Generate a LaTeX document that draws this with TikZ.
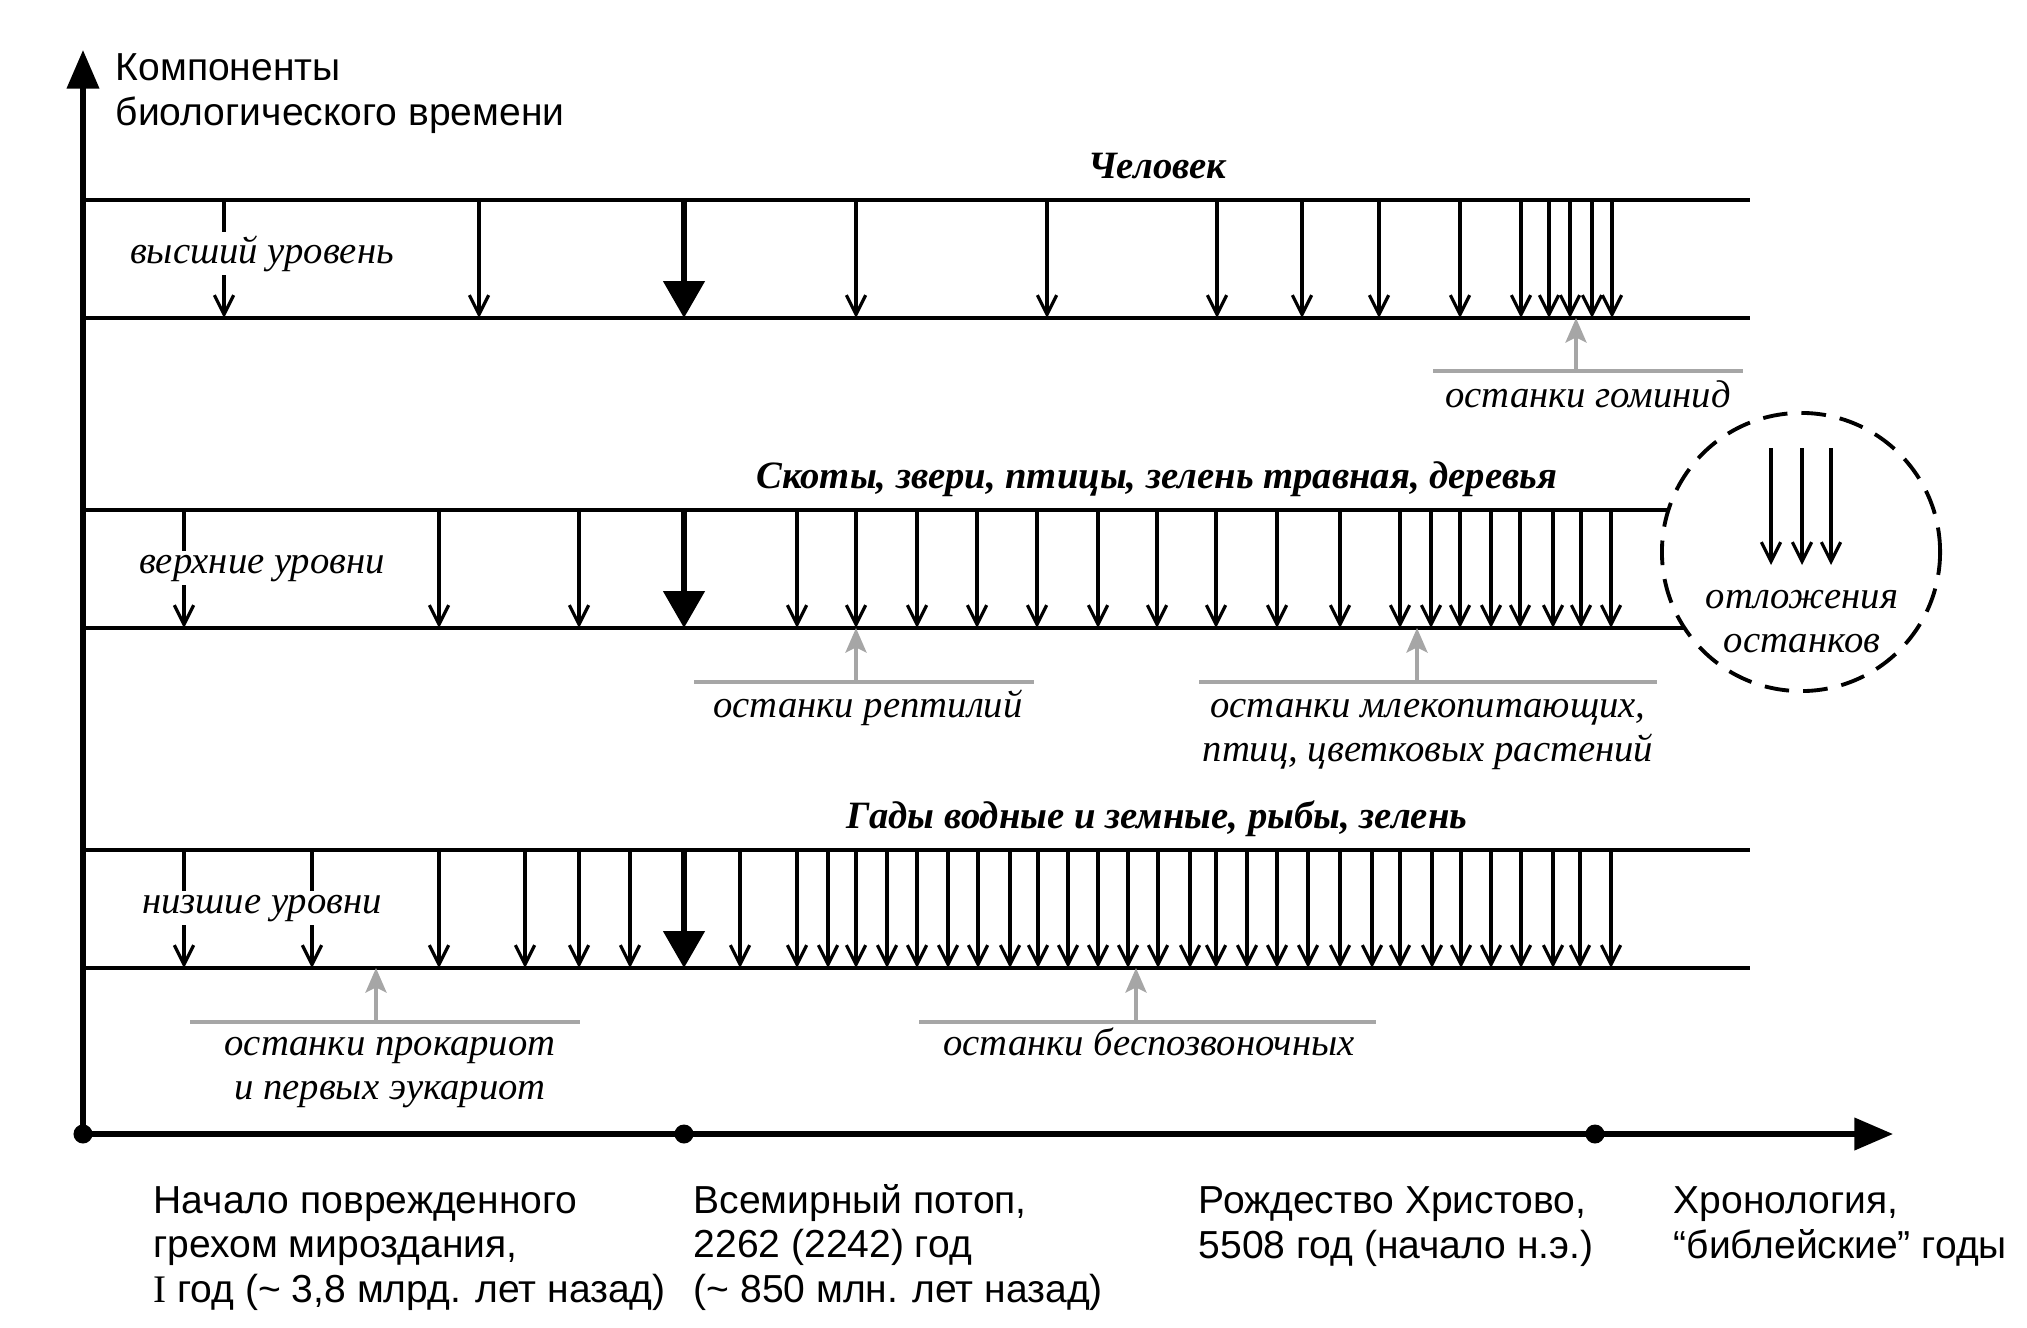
\documentclass[tikz,border=0pt]{standalone}
\usepackage{fontspec}
\setmainfont{Liberation Serif}
\setsansfont{Liberation Sans}
\usetikzlibrary{positioning, arrows.meta}

\begin{document}
\begin{tikzpicture}[x=0.01cm, y=-0.01cm,
  band/.style={line width=1.2pt},
  axis/.style={line width=1.5pt, -{Triangle[length=11pt,width=9pt]}},
  tarr/.style={line width=0.9pt, -{Straight Barb[length=5.5pt,width=5.5pt]}},
  barr/.style={line width=1.8pt, -{Triangle[length=10.5pt,width=11.5pt]}},
  garr/.style={line width=0.9pt, gray!70, -{Stealth[length=7pt,width=6pt,inset=1.5pt]}},
  gline/.style={line width=0.9pt, gray!70},
  lvl/.style={fill=white, inner sep=1pt, anchor=base, font=\itshape\fontsize{11}{12.5}\selectfont},
  ttl/.style={anchor=base, font=\bfseries\itshape\fontsize{11}{12.5}\selectfont},
  rem/.style={align=center, anchor=base, font=\itshape\fontsize{11}{12.5}\selectfont},
  ev/.style={align=left, anchor=base west, inner sep=0pt, font=\sffamily\fontsize{11.1}{12.6}\selectfont},
  dot/.style={circle, fill, inner sep=0pt, minimum size=0.19cm}
]
  \useasboundingbox (0,0) rectangle (2027,1327);

  % axes
  \coordinate (o) at (83,1134);
  \draw[axis] (o) -- (83,50);
  \draw[axis] (o) -- (1893,1134);
  \node[dot] (d0) at (o) {};
  \node[dot] (d1) at (684,1134) {};
  \node[dot] (d2) at (1595,1134) {};

  % three bands
  \draw[band] (83,200) -- (1750,200);
  \draw[band] (83,318) -- (1750,318);
  \draw[band] (83,510) -- (1668,510);
  \draw[band] (83,628) -- (1685,628);
  \draw[band] (83,850) -- (1750,850);
  \draw[band] (83,968) -- (1750,968);

  \foreach \x in {224,479,856,1047,1217,1302,1379,1460,1521,1549,1570,1592,1612}
    \draw[tarr] (\x,200) -- (\x,318);
  \foreach \x in {184,439,579,797,856,917,977,1037,1098,1157,1216,1277,1340,
                  1400,1431,1460,1491,1520,1553,1581,1611}
    \draw[tarr] (\x,510) -- (\x,628);
  \foreach \x in {184,312,439,525,579,630,740,797,828,856,887,917,948,978,1010,
                  1038,1068,1098,1128,1158,1190,1216,1247,1277,1308,1340,1372,
                  1400,1432,1461,1491,1521,1553,1580,1611}
    \draw[tarr] (\x,850) -- (\x,968);
  \foreach \y/\z in {200/318, 510/628, 850/968}
    \draw[barr] (684,\y) -- (684,\z);

  % deposits
  \node[draw, circle, minimum size=2.78cm, line width=1.1pt,
        dash pattern=on 7pt off 4pt] (dep) at (1801,552) {};
  \foreach \x in {1771,1802,1831}
    \draw[tarr] (\x,448) -- (\x,565);
  \node[rem] (dept) at (1802,652) {отложения\\останков};

  % labels
  \node[ev, anchor=base west] (ylab) at (115,125) {Компоненты\\биологического времени};
  \node[ttl] (t1) at (1157,178) {Человек};
  \node[ttl] (t2) at (1157,488) {Скоты, звери, птицы, зелень травная, деревья};
  \node[ttl] (t3) at (1157,828) {Гады водные и земные, рыбы, зелень};
  \node[lvl] (l1) at (262,263) {высший уровень};
  \node[lvl] (l2) at (262,573) {верхние уровни};
  \node[lvl] (l3) at (262,913) {низшие уровни};

  % remains
  \draw[gline] (1433,371) -- (1743,371);
  \draw[garr] (1576,371) -- (1576,318);
  \node[rem] (r1) at (1588,407) {останки гоминид};
  \draw[gline] (694,682) -- (1034,682);
  \draw[garr] (856,682) -- (856,628);
  \node[rem] (r2) at (868,717) {останки рептилий};
  \draw[gline] (1199,682) -- (1657,682);
  \draw[garr] (1417,682) -- (1417,628);
  \node[rem] (r3) at (1428,761) {останки млекопитающих,\\птиц, цветковых растений};
  \draw[gline] (190,1022) -- (580,1022);
  \draw[garr] (376,1022) -- (376,968);
  \node[rem] (r4) at (390,1099) {останки прокариот\\и первых эукариот};
  \draw[gline] (919,1022) -- (1376,1022);
  \draw[garr] (1136,1022) -- (1136,968);
  \node[rem] (r5) at (1149,1055) {останки беспозвоночных};

  % chronology
  \node[ev] (e0) at (153,1302) {Начало поврежденного\\грехом мироздания,\\{\rmfamily I} год (\textasciitilde{} 3,8 млрд. лет назад)};
  \node[ev] (e1) at (693,1302) {Всемирный потоп,\\2262 (2242) год\\(\textasciitilde{} 850 млн. лет назад)};
  \node[ev] (e2) at (1198,1258) {Рождество Христово,\\5508 год (начало н.э.)};
  \node[ev] (e3) at (1673,1258) {Хронология,\\“библейские” годы};
\end{tikzpicture}
\end{document}
